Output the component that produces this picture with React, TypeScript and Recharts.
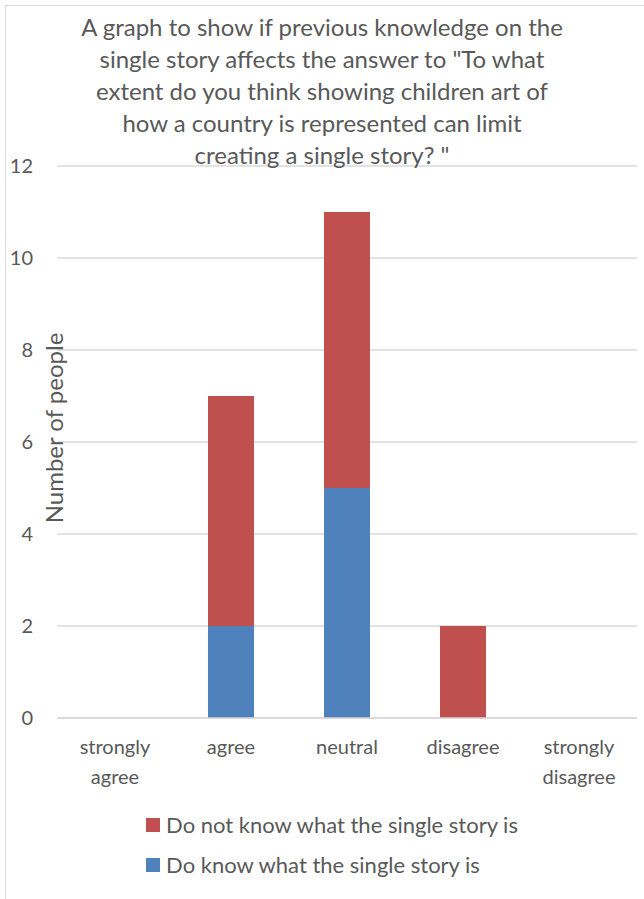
import { BarChart, Bar, XAxis, YAxis, CartesianGrid, Legend } from 'recharts';

const categories = ['strongly agree', 'agree', 'neutral', 'disagree', 'strongly disagree'];
const doKnow = [0, 2, 5, 0, 0];
const doNotKnow = [0, 5, 6, 2, 0];
const yTicks = [0, 2, 4, 6, 8, 10, 12];

const seriesNames = {
    doKnow: 'Do know what the single story is',
    doNotKnow: 'Do not know what the single story is',
};

// title wraps the same way as the original
const titleLines = [
    'A graph to show if previous knowledge on the',
    'single story affects the answer to "To what',
    'extent do you think showing children art of',
    'how a country is represented can limit',
    'creating a single story? "',
];

const data = categories.map((name, i) => ({ name, doKnow: doKnow[i], doNotKnow: doNotKnow[i] }));

const FONT = 'Lato, "Open Sans", sans-serif';
const TEXT = '#595959';

const CategoryTick = (props: any) => {
    const { x, y, payload } = props;
    const words = String(payload.value).split(' ');
    return (
        <text x={x} y={y} textAnchor="middle" fill={TEXT} fontSize={20} fontFamily={FONT}>
            {words.map((w, i) => (
                <tspan key={i} x={x} dy={i === 0 ? 28 : 30}>{w}</tspan>
            ))}
        </text>
    );
};

const LegendBox = () => {
    const items = [
        { label: seriesNames.doNotKnow, color: '#C0504D' },
        { label: seriesNames.doKnow, color: '#4F81BD' },
    ];
    return (
        <div style={{ display: 'flex', justifyContent: 'center' }}>
            <div style={{ display: 'flex', flexDirection: 'column', gap: 14 }}>
                {items.map((it) => (
                    <div key={it.label} style={{ display: 'flex', alignItems: 'center', fontSize: 22, color: TEXT, fontFamily: FONT, lineHeight: '26px' }}>
                        <span style={{ width: 14, height: 14, background: it.color, marginRight: 6, display: 'inline-block' }} />
                        {it.label}
                    </div>
                ))}
            </div>
        </div>
    );
};

export default function App() {
    return (
        <div style={{ position: 'absolute', left: 0, top: 0, width: 644, height: 899, background: '#fff', overflow: 'hidden' }}>
            <div style={{ position: 'absolute', left: 5, top: 5, width: 700, height: 960, border: '1px solid #D9D9D9', boxSizing: 'border-box' }} />
            <div style={{ position: 'absolute', left: 22, top: 11, width: 600, textAlign: 'center', fontFamily: FONT, fontSize: 24, lineHeight: '32px', color: TEXT, zIndex: 2 }}>
                {titleLines.map((l) => (
                    <div key={l}>{l}</div>
                ))}
            </div>
            <div style={{ position: 'absolute', left: 53, top: 428, transform: 'translate(-50%, -50%) rotate(-90deg)', whiteSpace: 'nowrap', fontFamily: FONT, fontSize: 24, color: TEXT, zIndex: 2 }}>
                Number of people
            </div>
            <BarChart
                width={644}
                height={899}
                data={data}
                margin={{ top: 166, right: 7, left: 17, bottom: 101 }}
                barSize={46}
            >
                <CartesianGrid vertical={false} stroke="#D9D9D9" strokeWidth={1.5} />
                <XAxis
                    dataKey="name"
                    height={80}
                    axisLine={{ stroke: '#D9D9D9', strokeWidth: 1.5 }}
                    tickLine={false}
                    interval={0}
                    tick={<CategoryTick />}
                />
                <YAxis
                    width={40}
                    domain={[0, 12]}
                    ticks={yTicks}
                    axisLine={false}
                    tickLine={false}
                    tickSize={0}
                    tickMargin={24}
                    tick={{ fill: TEXT, fontSize: 20, fontFamily: FONT }}
                />
                <Legend
                    layout="vertical"
                    align="center"
                    verticalAlign="middle"
                    wrapperStyle={{ top: 812, left: 10, width: 644 }}
                    content={<LegendBox />}
                />
                <Bar dataKey="doKnow" name={seriesNames.doKnow} stackId="a" fill="#4F81BD" isAnimationActive={false} />
                <Bar dataKey="doNotKnow" name={seriesNames.doNotKnow} stackId="a" fill="#C0504D" isAnimationActive={false} />
            </BarChart>
        </div>
    );
}
